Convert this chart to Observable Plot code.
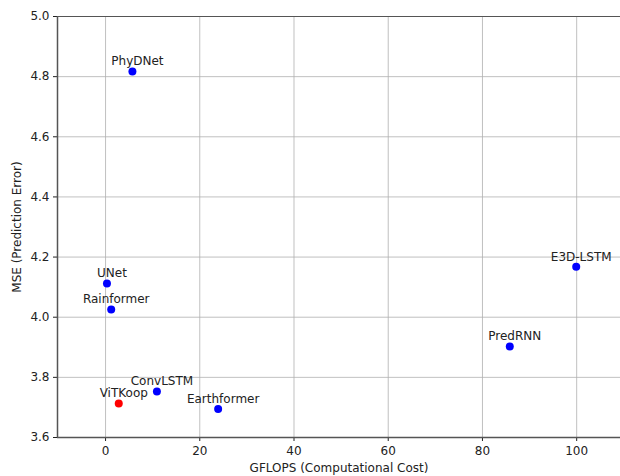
<!DOCTYPE html>
<html><head><meta charset="utf-8">
<script src="https://cdn.jsdelivr.net/npm/d3@7"></script>
<script src="https://cdn.jsdelivr.net/npm/@observablehq/plot@0.6"></script>
<style>
body{margin:0;background:#fff;}
svg{font-family:"DejaVu Sans",sans-serif;}
</style></head>
<body><div id="chart"></div>
<script>
const models = ["PhyDNet","UNet","Rainformer","ConvLSTM","ViTKoop","Earthformer","PredRNN","E3D-LSTM"];
const gflops = [5.7, 0.3, 1.2, 10.9, 2.8, 23.9, 85.8, 99.9];
const mse = [4.817, 4.112, 4.026, 3.753, 3.713, 3.695, 3.903, 4.168];
const pointColors = ["blue","blue","blue","blue","red","blue","blue","blue"];
const xTicks = [0,20,40,60,80,100];
const yTicks = [3.6,3.8,4.0,4.2,4.4,4.6,4.8,5.0];

const data = models.map((m,i)=>({model:m, x:gflops[i], y:mse[i], c:pointColors[i]}));
const xDomain = [-10.2, 109.3];
const yDomain = [3.6, 5.0];

const chart = Plot.plot({
  width: 620, height: 476,
  marginLeft: 57, marginTop: 16, marginBottom: 39, marginRight: 0,
  style: {fontSize: "12px", fontFamily: "DejaVu Sans, sans-serif", color: "#222"},
  x: {domain: xDomain, ticks: xTicks, tickFormat: d=>String(d), label: "GFLOPS (Computational Cost)", labelAnchor: "center", labelArrow: "none", labelOffset: 34, tickSize: 4, tickPadding: 5},
  y: {domain: yDomain, ticks: yTicks, tickFormat: d=>d.toFixed(1), label: "MSE (Prediction Error)", labelAnchor: "center", labelArrow: "none", labelOffset: 45, tickSize: 4, tickPadding: 4},
  marks: [
    Plot.gridX(xTicks, {stroke: "#b0b0b0", strokeOpacity: 0.8, strokeWidth: 1}),
    Plot.gridY(yTicks, {stroke: "#b0b0b0", strokeOpacity: 0.8, strokeWidth: 1}),
    Plot.ruleX([xDomain[0]], {stroke: "#555", strokeWidth: 1.5}),
    Plot.ruleY([yDomain[0]], {stroke: "#555", strokeWidth: 1.5}),
    Plot.ruleY([yDomain[1]], {stroke: "#555", strokeWidth: 1.2}),
    Plot.dot(data, {x: "x", y: "y", fill: "c", r: 4, stroke: null}),
    Plot.text(data, {x: "x", y: "y", text: "model", dx: 5, dy: -10, fill: "#222", fontSize: 12})
  ]
});
document.getElementById("chart").appendChild(chart);
</script>
</body></html>
